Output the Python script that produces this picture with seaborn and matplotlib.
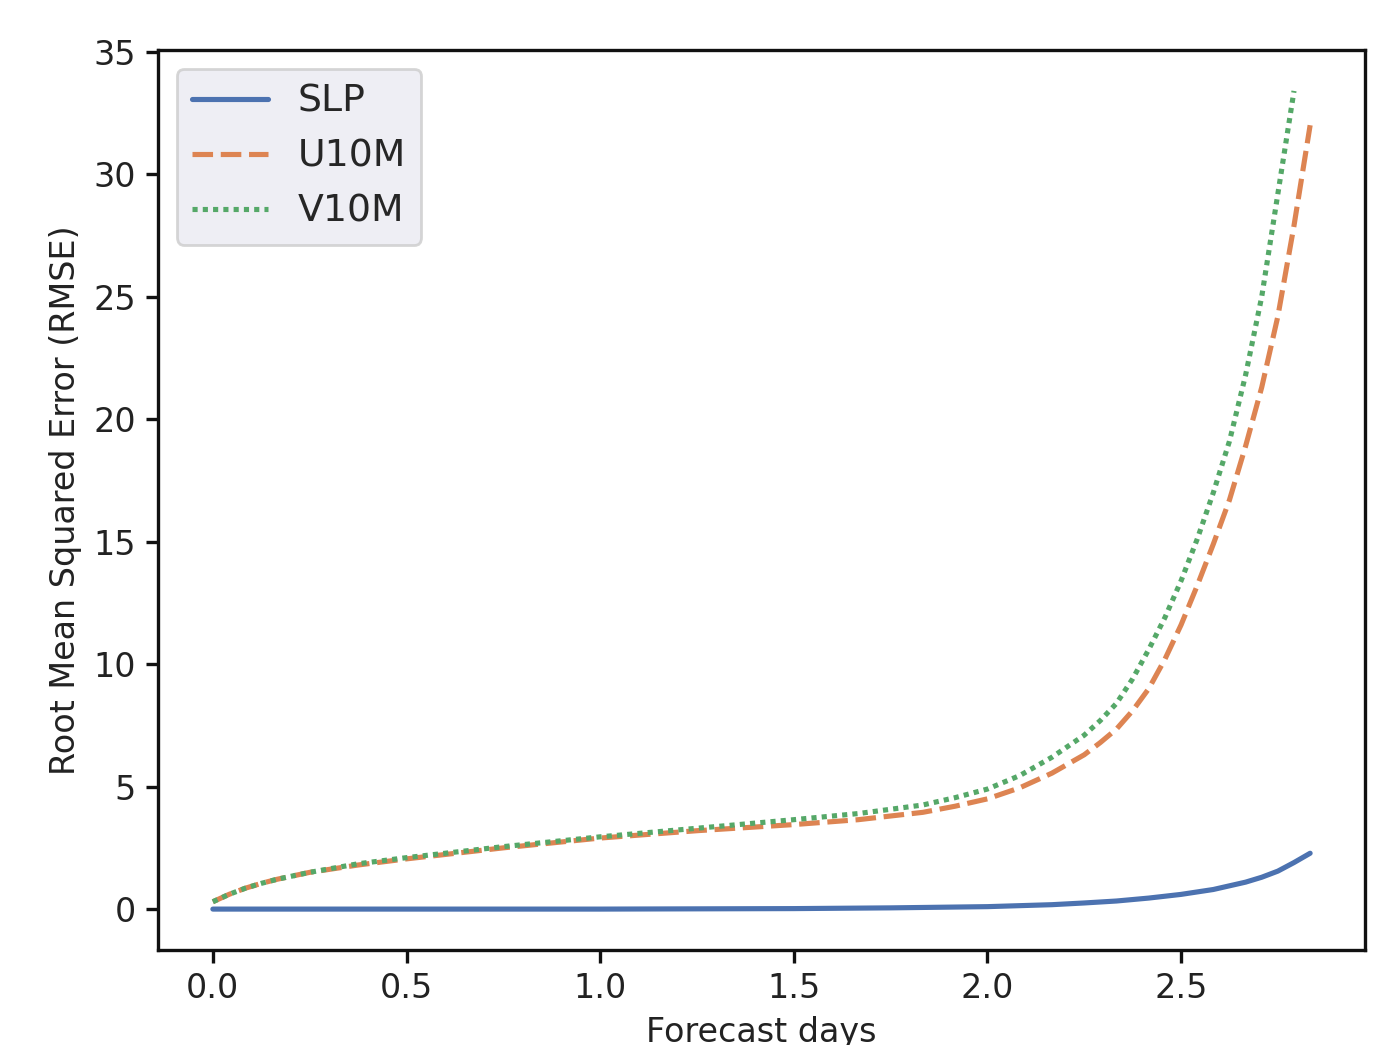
import numpy as np
import pandas as pd
import matplotlib
matplotlib.use("Agg")
import matplotlib.pyplot as plt
import seaborn as sns

# Forecast lead times (hours) and RMSE values
slp_hours = [0, 6, 12, 18, 24, 30, 36, 42, 48, 52, 54, 56, 58, 60, 62, 63, 64, 65, 66, 67, 68]
slp_rmse = [0.0, 0.0, 0.0, 0.0, 0.0, 0.01, 0.02, 0.05, 0.1, 0.18, 0.25, 0.33, 0.45, 0.6, 0.8,
            0.95, 1.1, 1.3, 1.55, 1.9, 2.28]

u_hours = [0, 1, 2, 3, 4, 6, 9, 12, 18, 24, 30, 36, 40, 44, 46, 48, 50, 52, 54, 55, 56, 57, 58,
           59, 60, 61, 62, 63, 64, 65, 66, 67, 68]
u_rmse = [0.3, 0.6, 0.85, 1.05, 1.22, 1.5, 1.8, 2.05, 2.5, 2.9, 3.2, 3.45, 3.65, 3.95, 4.2, 4.5,
          4.95, 5.55, 6.3, 6.8, 7.35, 8.1, 9.0, 10.2, 11.6, 13.2, 14.9, 16.7, 18.9, 21.3, 24.2,
          27.9, 32.0]

v_hours = [0, 1, 2, 3, 4, 6, 9, 12, 18, 24, 30, 36, 40, 44, 46, 48, 50, 52, 54, 55, 56, 57, 58,
           59, 60, 61, 62, 63, 64, 65, 66, 67]
v_rmse = [0.3, 0.6, 0.85, 1.05, 1.22, 1.5, 1.85, 2.1, 2.55, 2.95, 3.3, 3.65, 3.9, 4.25, 4.55,
          4.9, 5.45, 6.2, 7.1, 7.7, 8.4, 9.4, 10.6, 11.9, 13.4, 15.1, 17.0, 19.1, 21.8, 25.0,
          29.2, 33.4]

series_names = ["SLP", "U10M", "V10M"]
colors = sns.color_palette("deep", 3)

frames = []
for name, hrs, vals in zip(series_names, [slp_hours, u_hours, v_hours], [slp_rmse, u_rmse, v_rmse]):
    frames.append(pd.DataFrame({"days": np.array(hrs) / 24.0, "rmse": vals, "variable": name}))
df = pd.concat(frames, ignore_index=True)

sns.set_theme(context="notebook", style="ticks")
plt.rcParams.update({
    "axes.edgecolor": "#111111",
    "axes.linewidth": 1.2,
    "xtick.color": "#111111",
    "ytick.color": "#111111",
    "xtick.labelcolor": "#222222",
    "ytick.labelcolor": "#222222",
    "xtick.major.size": 4.5,
    "ytick.major.size": 4.5,
    "xtick.major.width": 1.2,
    "ytick.major.width": 1.2,
    "xtick.labelsize": 12,
    "ytick.labelsize": 12,
    "axes.labelsize": 12,
    "axes.labelcolor": "#222222",
})
plt.rcParams["font.family"] = ["DejaVu Sans"]

fig = plt.figure(figsize=(6.87, 5.225), dpi=200)
ax = fig.add_axes([158 / 1374, 95 / 1045, (1365 - 158) / 1374, (950 - 50) / 1045])

sns.lineplot(data=df, x="days", y="rmse", hue="variable", style="variable",
             palette=colors, linewidth=1.85, ax=ax)

ax.set_xlabel("Forecast days")
ax.set_ylabel("Root Mean Squared Error (RMSE)")

leg = ax.legend(loc="upper left", fontsize=13.6, frameon=True, fancybox=True,
                facecolor="#EAEAF2", edgecolor="#CCCCCC", framealpha=0.8)
leg.set_title(None)
for h in leg.get_lines():
    h.set_linewidth(1.85)

fig.savefig("out.png", dpi=200)
